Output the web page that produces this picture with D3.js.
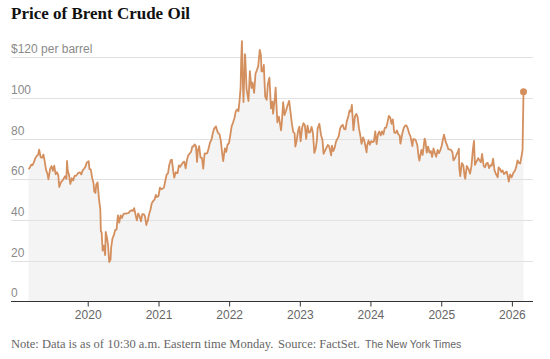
<!DOCTYPE html>
<html>
<head>
<meta charset="utf-8">
<script src="https://cdn.jsdelivr.net/npm/d3@7"></script>
<style>
  html, body { margin: 0; padding: 0; background: #fff; }
  svg { display: block; }
</style>
</head>
<body>
<svg id="chart" width="550" height="359"></svg>
<script>
// ---- Data (Brent crude, $ per barrel) ----
const prices2019 = [
  ["2019-03-01",65.0],["2019-03-08",65.7],["2019-03-15",67.2],["2019-03-22",67.0],["2019-03-29",68.4],
  ["2019-04-05",70.3],["2019-04-12",71.5],["2019-04-19",71.9],["2019-04-25",74.6],["2019-05-03",70.8],
  ["2019-05-10",70.6],["2019-05-17",72.2],["2019-05-24",68.7],["2019-05-31",64.5],["2019-06-07",62.7],
  ["2019-06-12",60.0],["2019-06-21",65.2],["2019-06-28",66.5],["2019-07-05",64.2],["2019-07-12",66.7],
  ["2019-07-19",62.5],["2019-07-26",63.5],["2019-08-02",61.9],["2019-08-07",56.2],["2019-08-16",58.6],
  ["2019-08-23",59.3],["2019-08-30",60.4],["2019-09-06",61.5],["2019-09-13",60.2],["2019-09-16",69.0],
  ["2019-09-20",64.3],["2019-09-27",61.9],["2019-10-03",57.7],["2019-10-11",60.5],["2019-10-18",59.4],
  ["2019-10-25",61.7],["2019-11-01",61.7],["2019-11-08",62.5],["2019-11-15",63.3],["2019-11-22",63.4],
  ["2019-11-29",62.4],["2019-12-06",64.4],["2019-12-13",65.2],["2019-12-20",66.1],["2019-12-27",68.2]
];
const prices2020 = [
  ["2020-01-06",68.9],["2020-01-10",65.0],["2020-01-17",64.9],["2020-01-24",60.7],["2020-01-31",58.2],
  ["2020-02-04",53.9],["2020-02-10",53.3],["2020-02-14",57.3],["2020-02-21",58.5],["2020-02-28",50.5],
  ["2020-03-06",45.3],["2020-03-09",34.4],["2020-03-13",33.9],["2020-03-18",24.9],["2020-03-25",27.4],
  ["2020-03-31",22.7],["2020-04-03",34.1],["2020-04-09",31.5],["2020-04-15",27.7],["2020-04-21",19.3],
  ["2020-04-28",20.5],["2020-05-01",26.4],["2020-05-08",30.9],["2020-05-15",32.5],["2020-05-22",35.1],
  ["2020-05-29",35.3],["2020-06-05",42.3],["2020-06-12",38.7],["2020-06-19",42.2],["2020-06-26",41.0],
  ["2020-07-03",42.8],["2020-07-10",43.2],["2020-07-17",43.1],["2020-07-24",43.3],["2020-07-31",43.5],
  ["2020-08-07",44.4],["2020-08-14",44.8],["2020-08-21",44.4],["2020-08-28",45.8],["2020-09-04",42.7],
  ["2020-09-11",39.8],["2020-09-18",43.2],["2020-09-25",41.9],["2020-10-02",39.3],["2020-10-09",42.9],
  ["2020-10-16",42.9],["2020-10-23",41.8],["2020-10-30",37.5],["2020-11-02",38.9],["2020-11-06",39.5],
  ["2020-11-13",42.8],["2020-11-20",44.9],["2020-11-27",48.2],["2020-12-04",49.3],["2020-12-11",50.0],
  ["2020-12-18",52.3],["2020-12-24",51.3]
];
const prices2021 = [
  ["2021-01-01",51.8],["2021-01-08",55.9],["2021-01-15",55.1],["2021-01-22",55.4],["2021-01-29",55.9],
  ["2021-02-05",59.3],["2021-02-12",62.4],["2021-02-19",62.9],["2021-02-25",66.9],["2021-03-05",69.4],
  ["2021-03-11",69.6],["2021-03-18",64.0],["2021-03-23",60.8],["2021-03-31",63.5],["2021-04-09",63.0],
  ["2021-04-16",66.8],["2021-04-23",66.1],["2021-04-30",67.3],["2021-05-07",68.3],["2021-05-14",68.7],
  ["2021-05-21",65.4],["2021-05-28",69.6],["2021-06-04",71.9],["2021-06-11",72.7],["2021-06-18",73.5],
  ["2021-06-25",76.2],["2021-07-02",76.2],["2021-07-06",77.2],["2021-07-13",76.5],["2021-07-19",68.6],
  ["2021-07-23",74.1],["2021-07-30",76.3],["2021-08-06",70.7],["2021-08-13",70.6],["2021-08-20",65.2],
  ["2021-08-27",72.7],["2021-09-03",72.6],["2021-09-10",72.9],["2021-09-17",75.3],["2021-09-24",78.1],
  ["2021-10-01",79.3],["2021-10-08",82.4],["2021-10-15",84.9],["2021-10-25",86.0],["2021-10-29",84.4],
  ["2021-11-05",82.7],["2021-11-12",82.2],["2021-11-19",78.9],["2021-11-26",72.7],["2021-12-01",68.9],
  ["2021-12-10",75.2],["2021-12-17",73.5],["2021-12-23",76.9],["2021-12-31",77.8]
];
const prices2022 = [
  ["2022-01-07",81.8],["2022-01-14",86.1],["2022-01-21",87.9],["2022-01-28",90.0],["2022-02-04",93.3],
  ["2022-02-11",94.4],["2022-02-18",93.5],["2022-02-24",99.1],["2022-03-01",105.0],["2022-03-04",118.1],
  ["2022-03-08",128.0],["2022-03-11",112.7],["2022-03-16",98.0],["2022-03-23",121.6],["2022-03-25",120.6],
  ["2022-04-01",104.4],["2022-04-11",98.5],["2022-04-18",113.2],["2022-04-26",104.9],["2022-05-02",107.6],
  ["2022-05-10",102.5],["2022-05-17",111.9],["2022-05-24",113.6],["2022-05-31",115.6],["2022-06-08",123.6],
  ["2022-06-14",121.2],["2022-06-17",113.1],["2022-06-24",113.1],["2022-06-29",116.3],["2022-07-06",100.7],
  ["2022-07-14",99.1],["2022-07-20",106.9],["2022-07-28",110.0],["2022-08-05",94.9],["2022-08-12",98.2],
  ["2022-08-16",92.3],["2022-08-26",100.9],["2022-08-29",105.1],["2022-09-07",88.0],["2022-09-15",90.8],
  ["2022-09-26",84.1],["2022-09-30",87.9],["2022-10-07",97.9],["2022-10-14",91.6],["2022-10-21",93.5],
  ["2022-10-28",95.8],["2022-11-07",98.6],["2022-11-14",93.1],["2022-11-21",87.5],["2022-11-28",83.2],
  ["2022-12-05",82.7],["2022-12-09",76.1],["2022-12-16",79.0],["2022-12-23",83.9],["2022-12-30",85.9]
];
const prices2023 = [
  ["2023-01-05",78.7],["2023-01-13",85.3],["2023-01-20",87.6],["2023-01-27",86.7],["2023-02-03",79.9],
  ["2023-02-10",86.4],["2023-02-17",83.0],["2023-02-24",83.2],["2023-03-03",85.8],["2023-03-10",82.8],
  ["2023-03-17",73.0],["2023-03-24",75.0],["2023-03-31",79.8],["2023-04-03",84.9],["2023-04-12",87.3],
  ["2023-04-21",81.7],["2023-04-28",79.5],["2023-05-04",72.5],["2023-05-12",74.2],["2023-05-19",75.6],
  ["2023-05-26",76.9],["2023-06-02",76.1],["2023-06-12",71.8],["2023-06-16",76.6],["2023-06-23",73.9],
  ["2023-06-30",75.4],["2023-07-07",78.5],["2023-07-14",79.9],["2023-07-21",81.1],["2023-07-28",84.9],
  ["2023-08-04",86.2],["2023-08-11",86.8],["2023-08-18",84.8],["2023-08-25",84.5],["2023-09-01",88.6],
  ["2023-09-08",90.6],["2023-09-15",93.9],["2023-09-22",93.3],["2023-09-27",96.6],["2023-10-05",84.1],
  ["2023-10-13",90.9],["2023-10-20",92.2],["2023-10-27",90.5],["2023-11-03",84.9],["2023-11-10",81.4],
  ["2023-11-16",77.4],["2023-11-24",80.6],["2023-12-01",78.9],["2023-12-12",73.2],["2023-12-15",76.6],
  ["2023-12-22",79.1],["2023-12-29",77.0]
];
const prices2024 = [
  ["2024-01-05",78.8],["2024-01-12",78.3],["2024-01-19",78.6],["2024-01-26",83.6],["2024-02-02",77.3],
  ["2024-02-09",82.2],["2024-02-16",83.5],["2024-02-23",81.6],["2024-03-01",83.6],["2024-03-08",82.1],
  ["2024-03-15",85.3],["2024-03-22",85.4],["2024-03-28",87.5],["2024-04-05",91.2],["2024-04-12",90.5],
  ["2024-04-19",87.3],["2024-04-26",89.5],["2024-05-03",83.0],["2024-05-10",82.8],["2024-05-17",84.0],
  ["2024-05-24",82.1],["2024-05-31",81.6],["2024-06-04",77.5],["2024-06-14",82.6],["2024-06-21",85.2],
  ["2024-06-28",86.4],["2024-07-05",86.5],["2024-07-12",85.0],["2024-07-19",82.6],["2024-07-26",81.1],
  ["2024-08-05",76.3],["2024-08-09",79.7],["2024-08-16",79.7],["2024-08-23",79.0],["2024-08-30",76.9],
  ["2024-09-06",71.1],["2024-09-10",69.2],["2024-09-20",74.5],["2024-09-27",72.0],["2024-10-07",80.0],
  ["2024-10-11",79.0],["2024-10-18",73.1],["2024-10-25",76.1],["2024-11-01",73.1],["2024-11-08",73.9],
  ["2024-11-15",71.0],["2024-11-22",75.2],["2024-11-29",72.9],["2024-12-06",71.1],["2024-12-13",74.5],
  ["2024-12-20",72.9],["2024-12-27",74.2]
];
const prices2025 = [
  ["2025-01-03",76.5],["2025-01-10",79.8],["2025-01-15",82.0],["2025-01-24",78.5],["2025-01-31",76.8],
  ["2025-02-07",74.7],["2025-02-14",74.7],["2025-02-21",74.4],["2025-02-28",73.2],["2025-03-05",69.3],
  ["2025-03-14",70.6],["2025-03-21",72.2],["2025-03-28",73.6],["2025-04-02",75.0],["2025-04-04",65.6],
  ["2025-04-09",61.5],["2025-04-17",68.0],["2025-04-25",66.9],["2025-05-02",61.3],["2025-05-05",60.2],
  ["2025-05-13",66.6],["2025-05-23",64.8],["2025-05-30",62.8],["2025-06-06",66.5],["2025-06-13",74.2],
  ["2025-06-19",78.9],["2025-06-24",67.1],["2025-06-27",67.8],["2025-07-03",68.8],["2025-07-11",70.4],
  ["2025-07-18",69.3],["2025-07-25",68.4],["2025-07-31",72.5],["2025-08-08",66.6],["2025-08-15",65.9],
  ["2025-08-22",67.7],["2025-08-29",68.1],["2025-09-05",65.5],["2025-09-12",67.0],["2025-09-19",66.7],
  ["2025-09-26",70.1],["2025-10-03",64.5],["2025-10-10",62.7],["2025-10-20",61.0],["2025-10-24",65.9],
  ["2025-10-31",65.1],["2025-11-07",63.6],["2025-11-14",64.4],["2025-11-21",62.6],["2025-11-28",63.2],
  ["2025-12-05",63.8],["2025-12-12",61.1],["2025-12-16",58.9],["2025-12-23",62.4],["2025-12-31",61.0]
];
const prices2026 = [
  ["2026-01-09",63.3],["2026-01-16",64.1],["2026-01-23",65.9],["2026-01-30",69.3],["2026-02-06",68.1],
  ["2026-02-13",67.8],["2026-02-20",71.5],["2026-02-25",74.5],["2026-03-02",103.0]
];
const yTicks = [0, 20, 40, 60, 80, 100, 120];
const yTickLabels = ["0", "20", "40", "60", "80", "100", "$120 per barrel"];
const xTickYears = [2020, 2021, 2022, 2023, 2024, 2025, 2026];

const titleText = "Price of Brent Crude Oil";
const noteText = "Note: Data is as of 10:30 a.m. Eastern time Monday.";
const sourceText = "Source: FactSet.";
const creditText = "The New York Times";

// ---- Build ----
const parse = d3.timeParse("%Y-%m-%d");
const data = [].concat(prices2019, prices2020, prices2021, prices2022, prices2023, prices2024, prices2025, prices2026)
  .map(([d, v]) => ({ date: parse(d), value: v }));

const LINE = "#d48f5e";
const svg = d3.select("#chart");

const gridLeft = 11, gridRight = 533;
const x = d3.scaleTime()
  .domain(d3.extent(data, d => d.date))
  .range([28.5, 523.5]);
const y = d3.scaleLinear().domain([0, 120]).range([301.3, 57.3]);

// Title
svg.append("text")
  .attr("x", 11).attr("y", 18.5)
  .attr("font-family", "Liberation Serif, serif")
  .attr("font-weight", "bold")
  .attr("font-size", 17)
  .attr("fill", "#111")
  .text(titleText);

// Area
const area = d3.area()
  .x(d => x(d.date))
  .y0(y(0))
  .y1(d => y(d.value));
svg.append("path")
  .datum(data)
  .attr("d", area)
  .attr("fill", "#f4f4f4");

// Grid lines (drawn across the area)
svg.append("g").selectAll("line")
  .data(yTicks.filter(t => t > 0))
  .join("line")
  .attr("x1", gridLeft).attr("x2", gridRight)
  .attr("y1", d => Math.round(y(d)) + 0.5).attr("y2", d => Math.round(y(d)) + 0.5)
  .attr("stroke", "#e1e1e1").attr("stroke-width", 1);

// Y labels (above grid lines)
svg.append("g").selectAll("text")
  .data(yTicks)
  .join("text")
  .attr("x", gridLeft)
  .attr("y", d => y(d) - 4)
  .attr("font-family", "Liberation Sans, Arial, sans-serif")
  .attr("font-size", 12)
  .attr("fill", "#8a8a8a")
  .text((d, i) => yTickLabels[i]);

// Line
const line = d3.line()
  .x(d => x(d.date))
  .y(d => y(d.value));
svg.append("path")
  .datum(data)
  .attr("d", line)
  .attr("fill", "none")
  .attr("stroke", LINE)
  .attr("stroke-width", 1.8)
  .attr("stroke-linejoin", "round");

// Last point dot
const last = data[data.length - 1];
svg.append("circle")
  .attr("cx", x(last.date)).attr("cy", y(last.value))
  .attr("r", 3.5).attr("fill", LINE);

// X axis
const xAxis = d3.axisBottom(x)
  .tickValues(xTickYears.map(yr => new Date(yr, 0, 1)))
  .tickFormat(d3.timeFormat("%Y"))
  .tickSize(5)
  .tickSizeOuter(0);
const gx = svg.append("g")
  .attr("transform", `translate(0,${Math.round(y(0)) + 0.5})`)
  .call(xAxis);
gx.select(".domain").remove();
gx.append("line")
  .attr("x1", gridLeft).attr("x2", gridRight)
  .attr("y1", 0).attr("y2", 0)
  .attr("stroke", "#333");
gx.selectAll(".tick line").attr("stroke", "#333");
gx.selectAll(".tick text")
  .attr("y", 17)
  .attr("dy", 0)
  .attr("font-family", "Liberation Sans, Arial, sans-serif")
  .attr("font-size", 12)
  .attr("fill", "#666");

// Footnote
const foot = svg.append("text")
  .attr("y", 348)
  .attr("fill", "#666");
foot.append("tspan").attr("x", 11)
  .attr("font-family", "Liberation Serif, serif").attr("font-size", 12.5).text(noteText);
foot.append("tspan").attr("x", 278)
  .attr("font-family", "Liberation Serif, serif").attr("font-size", 12.5).text(sourceText);
foot.append("tspan").attr("x", 365)
  .attr("font-family", "Liberation Sans, Arial, sans-serif").attr("font-size", 10.5).text(creditText);
</script>
</body>
</html>
